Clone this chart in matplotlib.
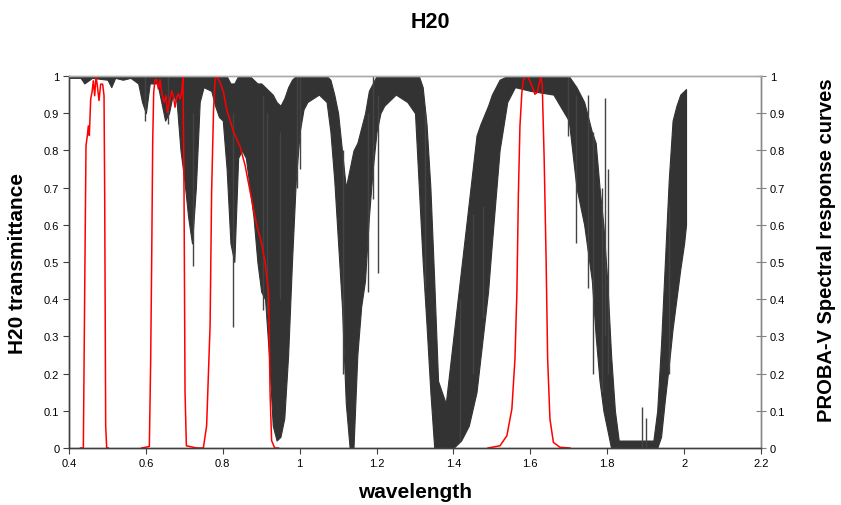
import matplotlib
matplotlib.use("Agg")
import matplotlib.pyplot as plt

plt.rcParams['font.family'] = ['Liberation Sans', 'DejaVu Sans']

# H2O transmittance, read as upper / lower envelope of the dense spectrum
wl = [0.40, 0.43, 0.44, 0.46, 0.50, 0.51, 0.52, 0.54, 0.56, 0.58, 0.59, 0.60, 0.61, 0.63,
      0.64, 0.65, 0.66, 0.67, 0.68, 0.69, 0.70, 0.71, 0.72, 0.73, 0.74, 0.75, 0.77, 0.78,
      0.79, 0.80, 0.81, 0.82, 0.83, 0.84, 0.85, 0.86, 0.87, 0.88, 0.89, 0.90, 0.91, 0.92,
      0.93, 0.94, 0.95, 0.96, 0.97, 0.98, 0.99, 1.00, 1.01, 1.02, 1.05, 1.07, 1.08, 1.09,
      1.10, 1.11, 1.12, 1.13, 1.14, 1.15, 1.16, 1.17, 1.18, 1.19, 1.20, 1.21, 1.22, 1.25,
      1.28, 1.30, 1.31, 1.32, 1.33, 1.34, 1.35, 1.36, 1.38, 1.40, 1.42, 1.44, 1.46, 1.47,
      1.49, 1.50, 1.52, 1.54, 1.56, 1.60, 1.66, 1.70, 1.72, 1.74, 1.76, 1.77, 1.78, 1.79,
      1.80, 1.81, 1.82, 1.83, 1.86, 1.88, 1.90, 1.92, 1.93, 1.94, 1.95, 1.96, 1.97, 1.98,
      1.99, 2.00, 2.005]
t_hi = [1.0, 1.0, 1.0, 1.0, 1.0, 1.0, 1.0, 1.0, 1.0, 1.0, 1.0, 1.0, 1.0, 1.0,
        1.0, 1.0, 1.0, 1.0, 1.0, 1.0, 1.0, 1.0, 1.0, 1.0, 1.0, 1.0, 1.0, 1.0,
        1.0, 1.0, 1.0, 0.98, 0.98, 1.0, 1.0, 1.0, 1.0, 0.99, 0.98, 0.98, 0.97, 0.96,
        0.95, 0.93, 0.92, 0.94, 0.97, 0.99, 1.0, 1.0, 1.0, 1.0, 1.0, 1.0, 0.99, 0.95,
        0.90, 0.80, 0.70, 0.75, 0.80, 0.82, 0.86, 0.90, 0.96, 0.98, 1.0, 1.0, 1.0, 1.0,
        1.0, 1.0, 1.0, 0.97, 0.87, 0.70, 0.45, 0.18, 0.12, 0.30, 0.48, 0.66, 0.84, 0.87,
        0.92, 0.95, 0.99, 1.0, 1.0, 1.0, 1.0, 1.0, 0.97, 0.93, 0.85, 0.82, 0.70, 0.60,
        0.45, 0.25, 0.10, 0.02, 0.02, 0.02, 0.02, 0.02, 0.10, 0.28, 0.50, 0.72, 0.88, 0.92,
        0.95, 0.96, 0.965]
t_lo = [0.995, 0.995, 0.98, 0.995, 0.99, 0.97, 0.995, 0.99, 0.995, 0.98, 0.93, 0.90, 0.98, 0.98,
        0.93, 0.88, 0.90, 0.95, 0.93, 0.80, 0.72, 0.62, 0.55, 0.70, 0.93, 0.97, 0.96, 0.92,
        0.89, 0.88, 0.75, 0.55, 0.50, 0.78, 0.80, 0.78, 0.70, 0.62, 0.50, 0.42, 0.40, 0.25,
        0.06, 0.02, 0.03, 0.08, 0.25, 0.50, 0.72, 0.85, 0.91, 0.93, 0.95, 0.93, 0.85, 0.72,
        0.55, 0.38, 0.12, 0.0, 0.0, 0.25, 0.38, 0.45, 0.62, 0.75, 0.85, 0.90, 0.92, 0.95,
        0.93, 0.90, 0.70, 0.50, 0.33, 0.15, 0.0, 0.0, 0.0, 0.0, 0.02, 0.06, 0.15, 0.24,
        0.42, 0.55, 0.80, 0.93, 0.97, 0.96, 0.95, 0.88, 0.70, 0.60, 0.45, 0.30, 0.18, 0.10,
        0.05, 0.0, 0.0, 0.0, 0.0, 0.0, 0.0, 0.0, 0.0, 0.03, 0.13, 0.22, 0.32, 0.40,
        0.48, 0.55, 0.60]

# isolated absorption spikes: wavelength, bottom, top
spike_wl = [0.598, 0.658, 0.723, 0.826, 0.905, 0.915, 0.949, 0.992, 1.0, 1.113, 1.179, 1.19,
            1.205, 1.326, 1.417, 1.452, 1.478, 1.699, 1.72, 1.751, 1.764, 1.786, 1.794,
            1.803, 1.89, 1.90, 1.96]
spike_lo = [0.88, 0.87, 0.49, 0.325, 0.37, 0.36, 0.40, 0.70, 0.75, 0.20, 0.42, 0.67,
            0.47, 0.43, 0.02, 0.20, 0.35, 0.84, 0.55, 0.43, 0.20, 0.15, 0.30,
            0.20, 0.0, 0.0, 0.20]
spike_hi = [1.0, 1.0, 0.9, 0.9, 0.95, 0.9, 0.85, 1.0, 1.0, 0.8, 0.9, 1.0,
            0.95, 0.9, 0.40, 0.63, 0.65, 1.0, 0.95, 0.95, 0.85, 0.7, 0.94,
            0.75, 0.11, 0.08, 0.65]

# PROBA-V spectral response curves
b1_wl = [0.430, 0.4373, 0.4408, 0.4442, 0.4477, 0.4503, 0.4529, 0.4564, 0.4598, 0.4633, 0.4668,
         0.4703, 0.4737, 0.4781, 0.4824, 0.4876, 0.4911, 0.4928, 0.4954, 0.4980, 0.502]
b1_r = [0.0, 0.0, 0.418, 0.813, 0.84, 0.866, 0.84, 0.938, 0.956, 0.987, 0.947,
        1.0, 0.974, 0.934, 0.978, 0.978, 0.947, 0.687, 0.06, 0.0, 0.0]

b2_wl = [0.589, 0.609, 0.6125, 0.6151, 0.6177, 0.6203, 0.6237, 0.6281, 0.6324, 0.6367, 0.6411,
         0.6472, 0.6524, 0.6558, 0.661, 0.6671, 0.6714, 0.6758, 0.6801, 0.6844, 0.6888,
         0.6931, 0.6966, 0.6992, 0.7018, 0.7053, 0.732]
b2_r = [0.0, 0.004, 0.24, 0.508, 0.822, 0.956, 0.99, 0.99, 0.965, 0.99, 0.956,
        0.929, 0.947, 0.902, 0.929, 0.96, 0.947, 0.916, 0.943, 0.952, 0.938,
        0.956, 0.996, 0.687, 0.15, 0.006, 0.0]

b3_wl = [0.735, 0.7495, 0.758, 0.767, 0.771, 0.776, 0.780, 0.784, 0.793, 0.802, 0.810, 0.828,
         0.845, 0.858, 0.871, 0.888, 0.901, 0.910, 0.919, 0.923, 0.927, 0.935, 0.945]
b3_r = [0.0, 0.0, 0.06, 0.33, 0.69, 0.91, 0.99, 1.0, 0.983, 0.956, 0.91, 0.85,
        0.81, 0.76, 0.69, 0.60, 0.55, 0.50, 0.42, 0.15, 0.02, 0.0, 0.0]

b4_wl = [1.49, 1.521, 1.539, 1.552, 1.560, 1.565, 1.569, 1.573, 1.578, 1.582, 1.589, 1.595,
         1.604, 1.612, 1.618, 1.624, 1.627, 1.631, 1.636, 1.641, 1.645, 1.651, 1.660, 1.677, 1.703]
b4_r = [0.0, 0.006, 0.033, 0.105, 0.24, 0.418, 0.687, 0.866, 0.956, 0.99, 1.0, 0.996,
        0.974, 0.951, 0.956, 0.983, 1.0, 0.974, 0.777, 0.508, 0.24, 0.078, 0.015, 0.002, 0.0]

ticks01 = [i/10 for i in range(11)]
tick01_labels = ['0', '0.1', '0.2', '0.3', '0.4', '0.5', '0.6', '0.7', '0.8', '0.9', '1']

fig = plt.figure(figsize=(8.41, 5.06), dpi=100)
ax = fig.add_axes([69/841, 1-449/506, 692/841, 372/506])

dark = '#333333'
ax.fill_between(wl, t_lo, t_hi, color=dark, lw=0.8, edgecolor=dark)
ax.vlines(spike_wl, spike_lo, spike_hi, color='#444444', lw=1.0)

ax.set_xlim(0.4, 2.2)
ax.set_ylim(0, 1)
ax.set_xticks([0.4, 0.6, 0.8, 1.0, 1.2, 1.4, 1.6, 1.8, 2.0, 2.2])
ax.set_xticklabels(['0.4', '0.6', '0.8', '1', '1.2', '1.4', '1.6', '1.8', '2', '2.2'])
ax.set_yticks(ticks01)
ax.set_yticklabels(tick01_labels)
ax.tick_params(axis='both', direction='out', length=4, width=0.8, labelsize=8,
               color='#404040', pad=3)

ax2 = ax.twinx()
for x, r in [(b1_wl, b1_r), (b2_wl, b2_r), (b3_wl, b3_r), (b4_wl, b4_r)]:
    ax2.plot(x, r, color='red', lw=1.1)
ax2.set_ylim(0, 1)
ax2.set_yticks(ticks01)
ax2.set_yticklabels(tick01_labels)
ax2.tick_params(axis='y', direction='inout', length=7, width=0.8, labelsize=8,
                color='#808080', pad=3)

for a in (ax, ax2):
    a.spines['left'].set_color('#404040')
    a.spines['bottom'].set_color('#404040')
    a.spines['top'].set_color('#aaaaaa')
    a.spines['right'].set_color('#888888')
    for s in a.spines.values():
        s.set_linewidth(1.0)

# titles and axis labels placed in figure pixels
fig.text(430/841, 1 - 22/506, 'H20', fontsize=15.5, fontweight='bold', ha='center', va='center')
fig.text(415/841, 1 - 493/506, 'wavelength', fontsize=15, fontweight='bold', ha='center', va='center')
fig.text(18/841, 1 - 264/506, 'H20 transmittance', fontsize=15, fontweight='bold',
         rotation=90, ha='center', va='center')
fig.text(826/841, 1 - 250/506, 'PROBA-V Spectral response curves', fontsize=14.5,
         fontweight='bold', rotation=90, ha='center', va='center')

plt.savefig('out.png', dpi=100)
